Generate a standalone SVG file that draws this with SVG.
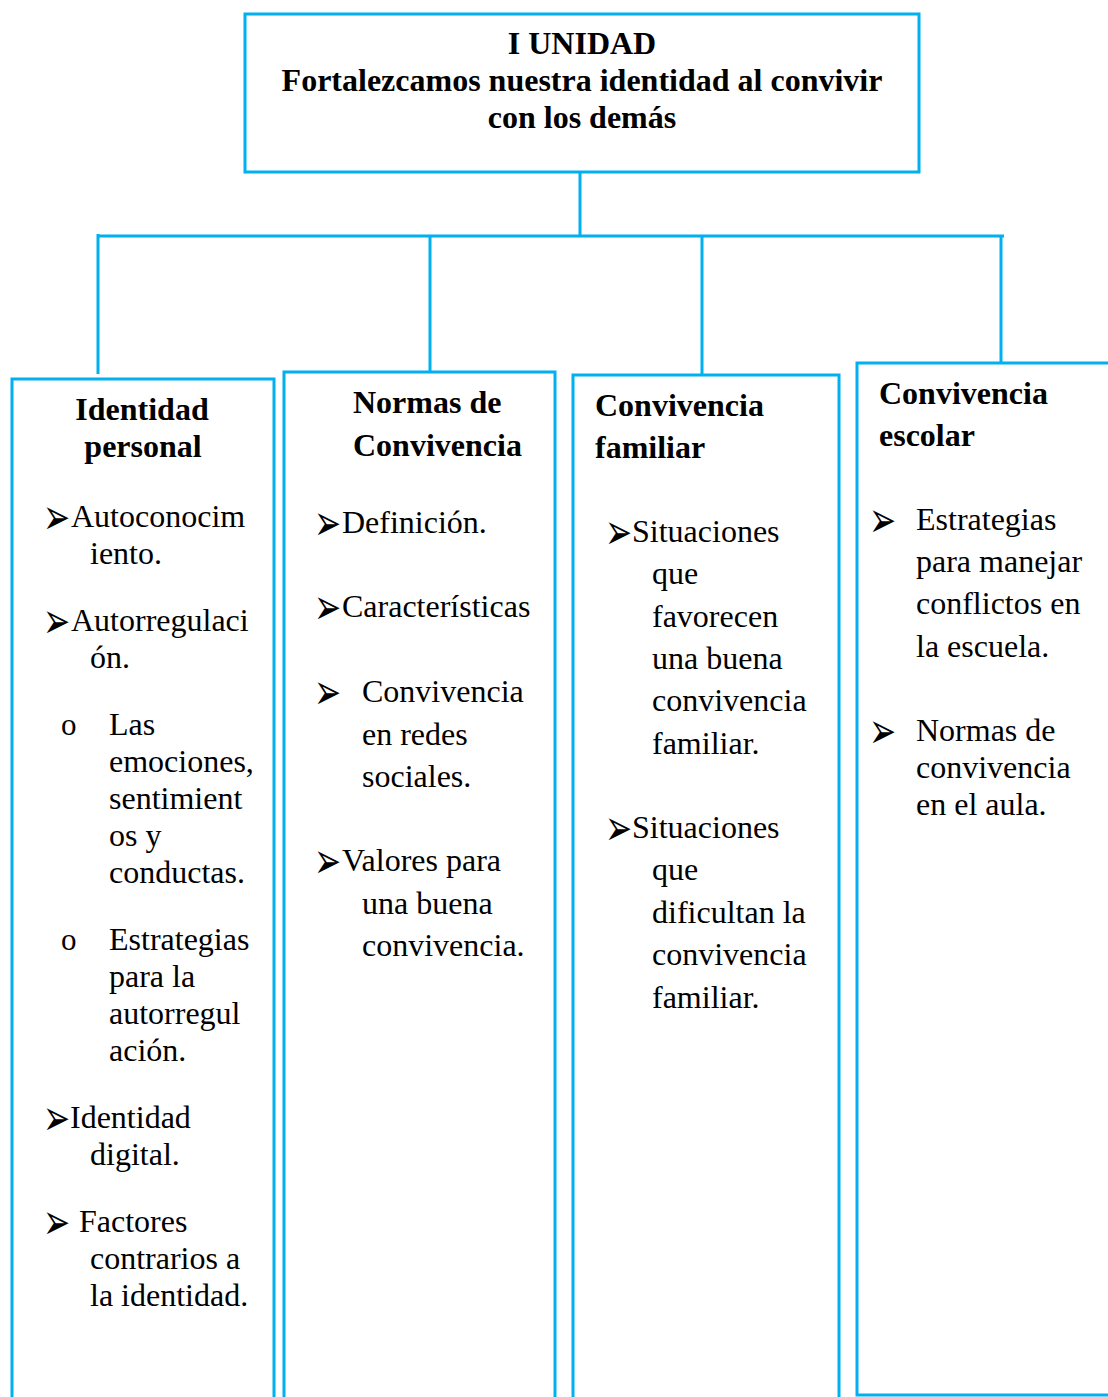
<svg xmlns="http://www.w3.org/2000/svg" width="1108" height="1397" viewBox="0 0 1108 1397">
<style>
.ln{stroke:#00B0F0;stroke-width:3;fill:none}
.bx{stroke:#00B0F0;stroke-width:3;fill:#fff}
.t{font-family:"Liberation Serif","Times New Roman",serif;font-size:32px;fill:#000}
.b{font-weight:bold}
.ar{font-family:"DejaVu Sans",sans-serif;font-size:36px;fill:#000}
.o{font-family:"Liberation Serif",serif;font-size:31px;fill:#000}
</style>
<defs>
<text id="arw" class="ar" transform="scale(0.9,1.4)">➢</text>
</defs>
<rect width="1108" height="1397" fill="#fff"/>
<g id="connectors">
<line class="ln" x1="580" y1="172" x2="580" y2="236"/>
<line class="ln" x1="97" y1="236" x2="1004" y2="236"/>
<line class="ln" x1="98" y1="234" x2="98" y2="374"/>
<line class="ln" x1="430" y1="236" x2="430" y2="372"/>
<line class="ln" x1="702" y1="236" x2="702" y2="374"/>
<line class="ln" x1="1001" y1="236" x2="1001" y2="362"/>
</g>
<g id="root">
<rect class="bx" x="245" y="14" width="674" height="158"/>
<text class="t b" x="582" y="54" text-anchor="middle">I UNIDAD</text>
<text class="t b" x="582" y="91" text-anchor="middle">Fortalezcamos nuestra identidad al convivir</text>
<text class="t b" x="582" y="128" text-anchor="middle">con los demás</text>
</g>
<g id="identidad-personal">
<rect class="bx" x="12" y="379" width="262" height="1100"/>
<text class="t b" x="142" y="420" text-anchor="middle">Identidad</text>
<text class="t b" x="143" y="457" text-anchor="middle">personal</text>
<use href="#arw" x="0" y="0" transform="translate(43,534)"/>
<text class="t" x="71" y="527">Autoconocim</text>
<text class="t" x="90" y="564">iento.</text>
<use href="#arw" transform="translate(43,638)"/>
<text class="t" x="71" y="631">Autorregulaci</text>
<text class="t" x="90" y="668">ón.</text>
<text class="o" x="61" y="735">o</text>
<text class="t" x="109" y="735">Las</text>
<text class="t" x="109" y="772">emociones,</text>
<text class="t" x="109" y="809">sentimient</text>
<text class="t" x="109" y="846">os y</text>
<text class="t" x="109" y="883">conductas.</text>
<text class="o" x="61" y="950">o</text>
<text class="t" x="109" y="950">Estrategias</text>
<text class="t" x="109" y="987">para la</text>
<text class="t" x="109" y="1024">autorregul</text>
<text class="t" x="109" y="1061">ación.</text>
<use href="#arw" transform="translate(43,1135)"/>
<text class="t" x="70" y="1128">Identidad</text>
<text class="t" x="90" y="1165">digital.</text>
<use href="#arw" transform="translate(43,1239)"/>
<text class="t" x="79" y="1232">Factores</text>
<text class="t" x="90" y="1269">contrarios a</text>
<text class="t" x="90" y="1306">la identidad.</text>
</g>
<g id="normas-convivencia">
<rect class="bx" x="284" y="372" width="271" height="1100"/>
<text class="t b" x="353" y="413">Normas de</text>
<text class="t b" x="353" y="456">Convivencia</text>
<use href="#arw" transform="translate(314,540)"/>
<text class="t" x="342" y="533">Definición.</text>
<use href="#arw" transform="translate(314,624)"/>
<text class="t" x="342" y="617">Características</text>
<use href="#arw" transform="translate(314,709)"/>
<text class="t" x="362" y="702">Convivencia</text>
<text class="t" x="362" y="745">en redes</text>
<text class="t" x="362" y="787">sociales.</text>
<use href="#arw" transform="translate(314,878)"/>
<text class="t" x="342" y="871">Valores para</text>
<text class="t" x="362" y="914">una buena</text>
<text class="t" x="362" y="956">convivencia.</text>
</g>
<g id="convivencia-familiar">
<rect class="bx" x="573" y="375" width="266" height="1100"/>
<text class="t b" x="595" y="416">Convivencia</text>
<text class="t b" x="595" y="458">familiar</text>
<use href="#arw" transform="translate(605,549)"/>
<text class="t" x="632" y="542">Situaciones</text>
<text class="t" x="652" y="584">que</text>
<text class="t" x="652" y="627">favorecen</text>
<text class="t" x="652" y="669">una buena</text>
<text class="t" x="652" y="711">convivencia</text>
<text class="t" x="652" y="754">familiar.</text>
<use href="#arw" transform="translate(605,845)"/>
<text class="t" x="632" y="838">Situaciones</text>
<text class="t" x="652" y="880">que</text>
<text class="t" x="652" y="923">dificultan la</text>
<text class="t" x="652" y="965">convivencia</text>
<text class="t" x="652" y="1008">familiar.</text>
</g>
<g id="convivencia-escolar">
<rect class="bx" x="857" y="363" width="300" height="1032"/>
<text class="t b" x="879" y="404">Convivencia</text>
<text class="t b" x="879" y="446">escolar</text>
<use href="#arw" transform="translate(869,537)"/>
<text class="t" x="916" y="530">Estrategias</text>
<text class="t" x="916" y="572">para manejar</text>
<text class="t" x="916" y="614">conflictos en</text>
<text class="t" x="916" y="657">la escuela.</text>
<use href="#arw" transform="translate(869,748)"/>
<text class="t" x="916" y="741">Normas de</text>
<text class="t" x="916" y="778">convivencia</text>
<text class="t" x="916" y="815">en el aula.</text>
</g>
</svg>
